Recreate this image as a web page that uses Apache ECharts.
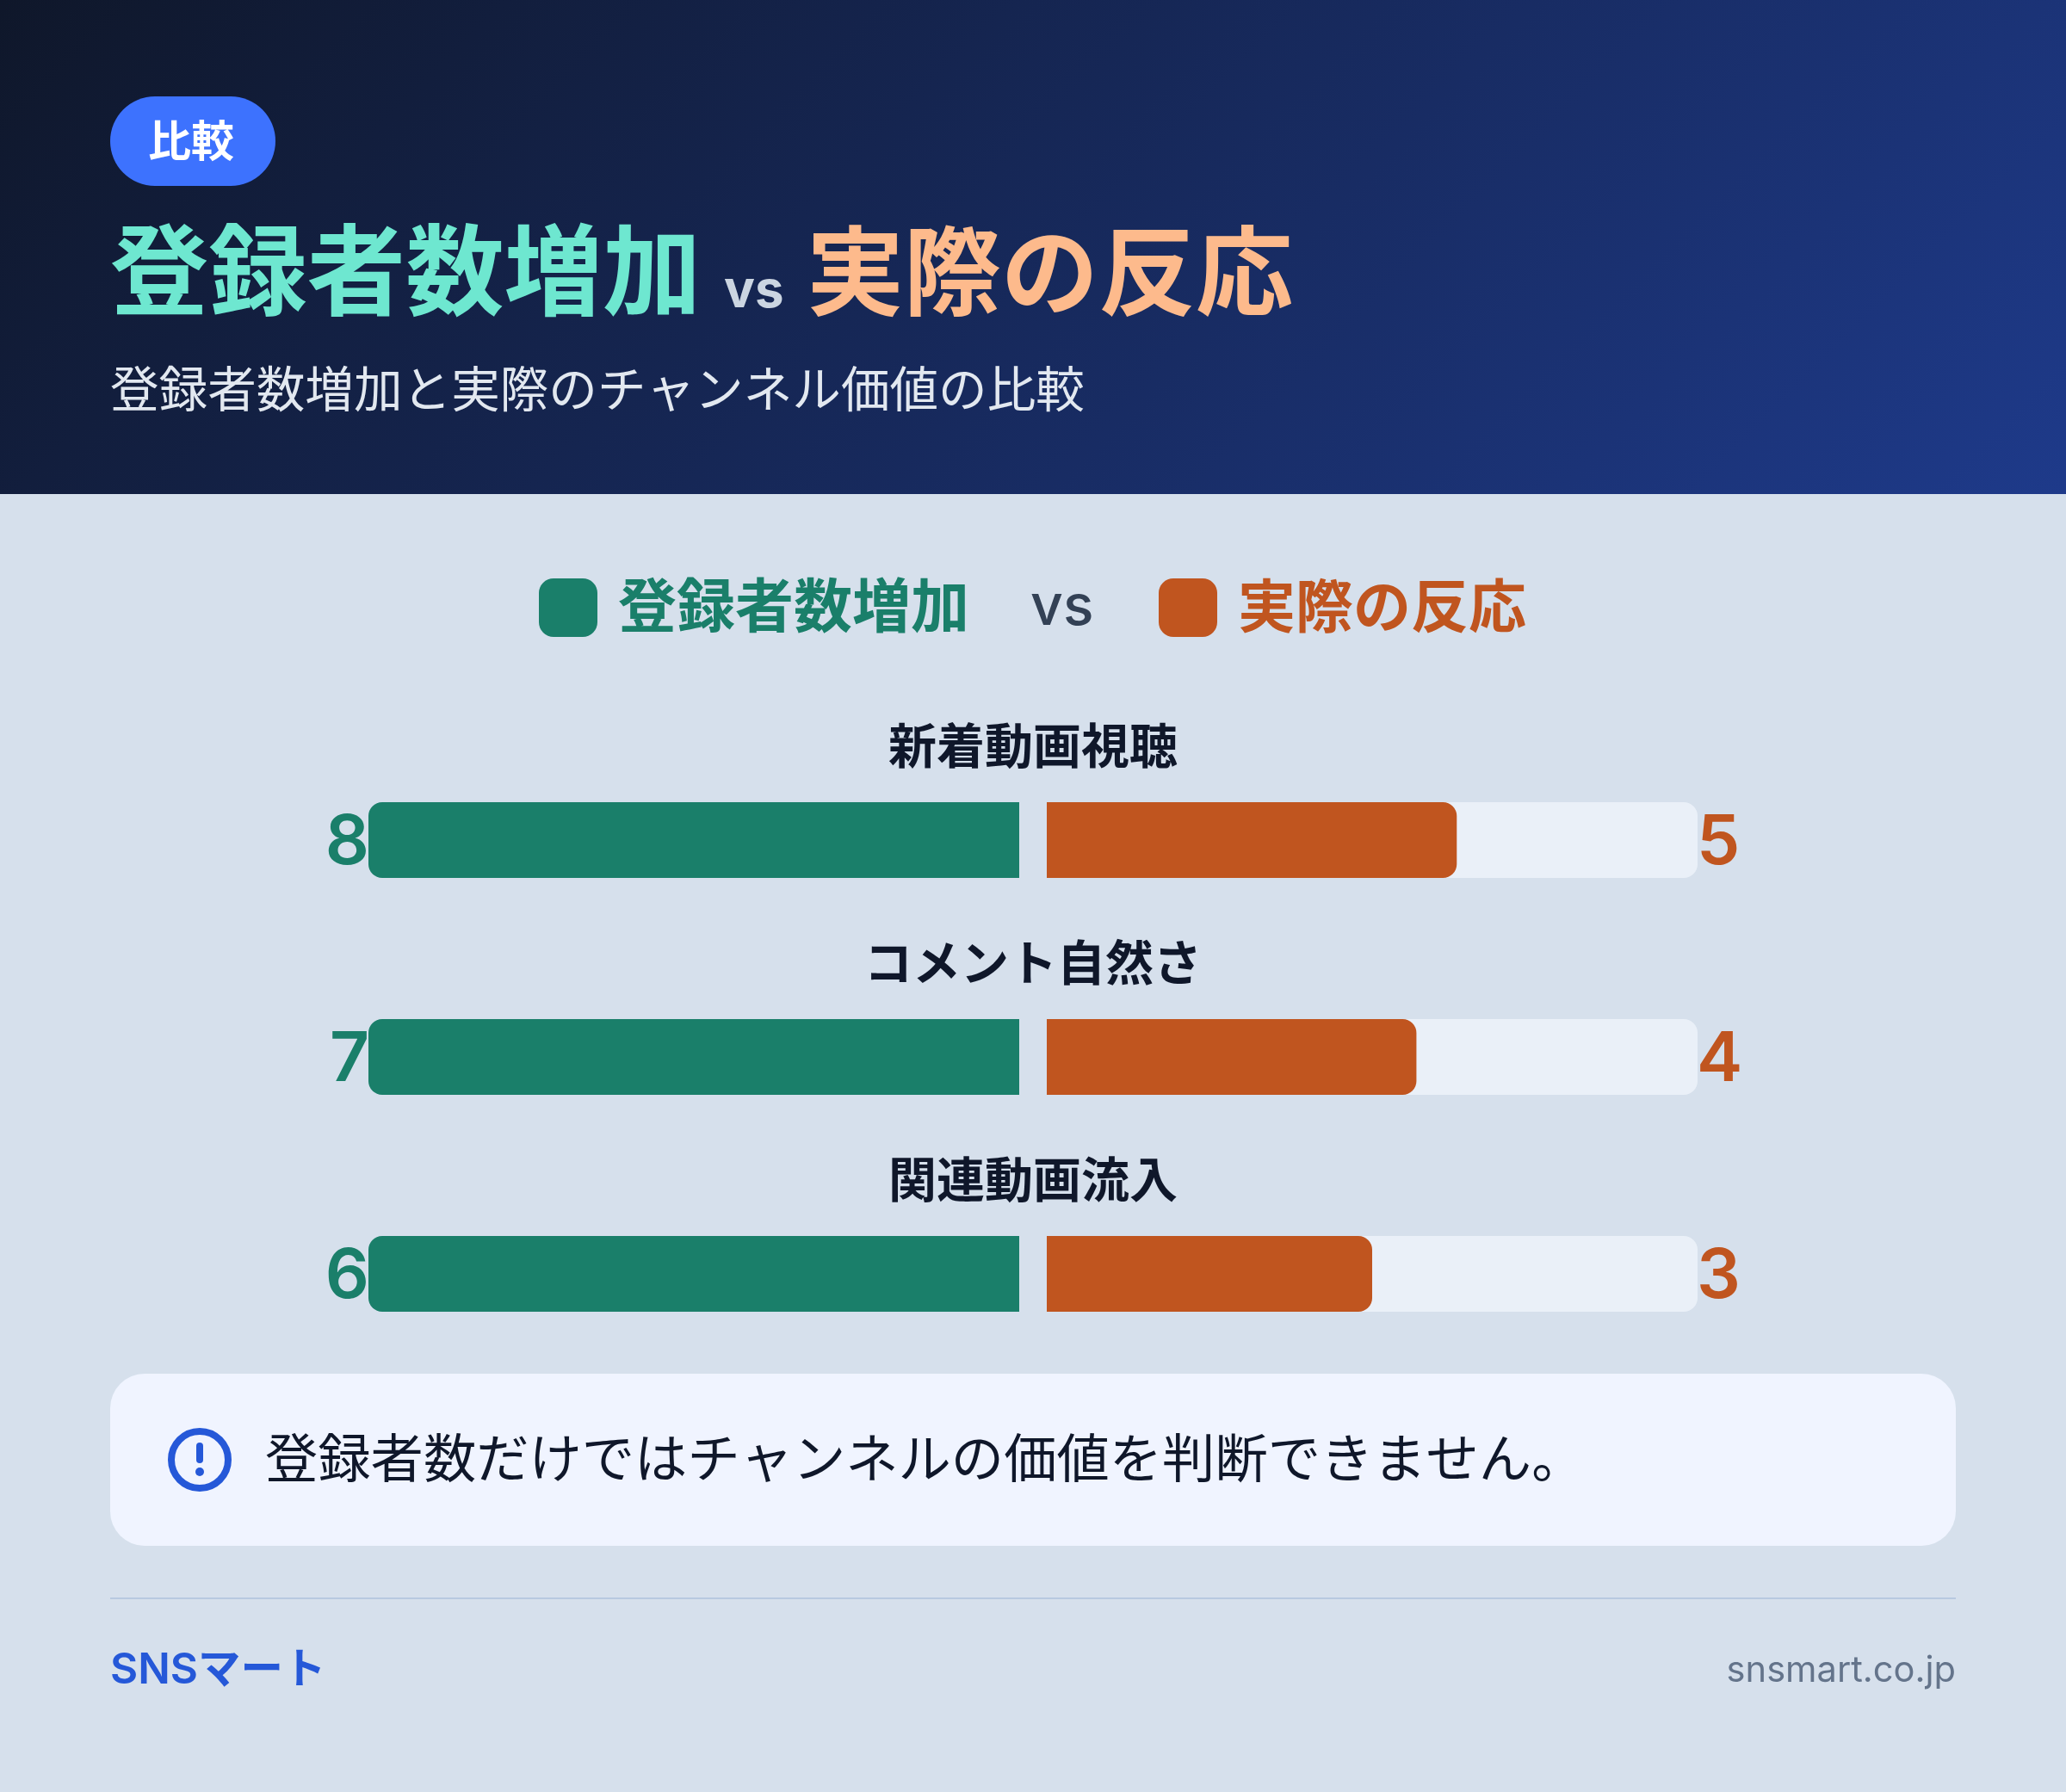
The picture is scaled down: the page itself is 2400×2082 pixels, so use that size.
<!DOCTYPE html>
<html>
<head>
<meta charset="utf-8" />
<title>登録者数増加 vs 実際の反応</title>
<script src="https://cdn.jsdelivr.net/npm/echarts@6/dist/echarts.min.js"></script>
<style>
html, body { margin: 0; padding: 0; background: #d6e0ec; }
#main { width: 2400px; height: 2082px; }
</style>
</head>
<body>
<div id="main"></div>
<script type="text/javascript">
var categories = ['新着動画視聴', 'コメント自然さ', '関連動画流入'];
var subscriberGrowth = [8, 7, 6];
var actualResponse = [5, 4, 3];
// bar lengths as a share of the track
var growthShare = [1, 1, 1];
var responseShare = [0.63, 0.568, 0.5];
var trackShare = [1, 1, 1];

var seriesNames = ['登録者数増加', '実際の反応'];
var FONT = 'Inter, "Noto Sans CJK JP", sans-serif';
var GREEN = '#1a7f6a';
var ORANGE = '#c0551f';
var BLUE = '#2558d8';

function txt(x, y, text, size, weight, color, align) {
    return {
        type: 'text',
        x: x,
        y: y,
        z: 10,
        style: {
            text: text,
            fontFamily: FONT,
            fontSize: size,
            fontWeight: weight,
            fill: color,
            align: align || 'left',
            verticalAlign: 'middle'
        }
    };
}

// legend text sits a little below the swatch centre, hence the rich padding
function legendText(size, color) {
    return {
        padding: [0, 0, 0, 19],
        rich: {
            t: { fontFamily: FONT, fontSize: size, fontWeight: 700, color: color, padding: [6, 0, 0, 0] }
        }
    };
}

var myChart = echarts.init(document.getElementById('main'));
myChart.setOption({
    animation: false,
    backgroundColor: '#d6e0ec',
    legend: [
        {
            data: [seriesNames[0]],
            left: 626,
            top: 672,
            padding: 0,
            icon: 'roundRect',
            itemWidth: 68,
            itemHeight: 68,
            selectedMode: false,
            formatter: '{t|{name}}',
            textStyle: legendText(68, GREEN)
        },
        {
            data: [seriesNames[1]],
            left: 1346,
            top: 672,
            padding: 0,
            icon: 'roundRect',
            itemWidth: 68,
            itemHeight: 68,
            selectedMode: false,
            formatter: '{t|{name}}',
            textStyle: legendText(67, ORANGE)
        }
    ],
    grid: [
        { left: 428, top: 850, width: 756, height: 756 },
        { left: 1216, top: 850, width: 756, height: 756 }
    ],
    xAxis: [
        { type: 'value', gridIndex: 0, min: 0, max: 1, inverse: true, show: false },
        { type: 'value', gridIndex: 1, min: 0, max: 1, show: false }
    ],
    yAxis: [
        { type: 'category', gridIndex: 0, data: categories, inverse: true, show: false },
        { type: 'category', gridIndex: 1, data: categories, inverse: true, show: false }
    ],
    series: [
        {
            name: seriesNames[0],
            type: 'bar',
            xAxisIndex: 0,
            yAxisIndex: 0,
            barWidth: 88,
            data: growthShare,
            itemStyle: { color: GREEN, borderRadius: [16, 0, 0, 16] },
            label: {
                show: true,
                position: 'left',
                distance: 0,
                offset: [1, 4],
                fontFamily: FONT,
                fontSize: 80,
                fontWeight: 600,
                color: GREEN,
                formatter: function (p) { return subscriberGrowth[p.dataIndex]; }
            }
        },
        {
            // pale track, also carries the right hand number
            name: 'track',
            type: 'bar',
            xAxisIndex: 1,
            yAxisIndex: 1,
            barWidth: 88,
            barGap: '-100%',
            silent: true,
            data: trackShare,
            itemStyle: { color: '#eaf0f8', borderRadius: [0, 16, 16, 0] },
            label: {
                show: true,
                position: 'right',
                distance: 0,
                offset: [-1, 4],
                fontFamily: FONT,
                fontSize: 80,
                fontWeight: 600,
                color: ORANGE,
                formatter: function (p) { return actualResponse[p.dataIndex]; }
            }
        },
        {
            name: seriesNames[1],
            type: 'bar',
            xAxisIndex: 1,
            yAxisIndex: 1,
            barWidth: 88,
            barGap: '-100%',
            data: responseShare,
            itemStyle: { color: ORANGE, borderRadius: [0, 16, 16, 0] },
            label: {
                show: true,
                position: [-16, -62],
                align: 'center',
                verticalAlign: 'middle',
                fontFamily: FONT,
                fontSize: 56,
                fontWeight: 700,
                color: '#0f172a',
                formatter: function (p) { return p.name; }
            }
        }
    ],
    graphic: [
        // header band
        {
            type: 'rect',
            z: 0,
            shape: { x: 0, y: 0, width: 2400, height: 574 },
            style: {
                fill: new echarts.graphic.LinearGradient(0.19, -0.795, 0.81, 1.795, [
                    { offset: 0, color: '#0f172a' },
                    { offset: 1, color: '#1e3a8a' }
                ])
            }
        },
        { type: 'rect', z: 1, shape: { x: 128, y: 112, width: 192, height: 104, r: 52 }, style: { fill: '#3d72fe' } },
        txt(222, 167, '比較', 50, 700, '#ffffff', 'center'),
        txt(128, 323, '登録者数増加', 114.4, 700, '#6ee7d0'),
        txt(841, 339, 'vs', 60, 700, '#cbd5e1'),
        txt(937, 323, '実際の反応', 113, 700, '#fdba8c'),
        txt(128, 456, '登録者数増加と実際のチャンネル価値の比較', 56.6, 400, '#e2e8f0'),
        txt(1197, 706, 'vs', 66, 500, '#334155'),
        // note box
        { type: 'rect', z: 1, shape: { x: 128, y: 1596, width: 2144, height: 200, r: 40 }, style: { fill: '#f0f4ff' } },
        { type: 'circle', z: 2, shape: { cx: 232, cy: 1696, r: 33 }, style: { fill: 'none', stroke: BLUE, lineWidth: 8 } },
        { type: 'line', z: 2, shape: { x1: 232, y1: 1680, x2: 232, y2: 1696 }, style: { stroke: BLUE, lineWidth: 8, lineCap: 'round' } },
        { type: 'circle', z: 2, shape: { cx: 232, cy: 1710, r: 5 }, style: { fill: BLUE } },
        txt(308, 1699, '登録者数だけではチャンネルの価値を判断できません。', 61.3, 400, '#0f172a'),
        // footer
        { type: 'rect', z: 1, shape: { x: 128, y: 1856, width: 2144, height: 2 }, style: { fill: '#b8c9e0' } },
        txt(128, 1941, 'SNSマート', 49.5, 600, BLUE),
        txt(2272, 1941, 'snsmart.co.jp', 41.6, 400, '#64748b', 'right')
    ]
});
</script>
</body>
</html>
